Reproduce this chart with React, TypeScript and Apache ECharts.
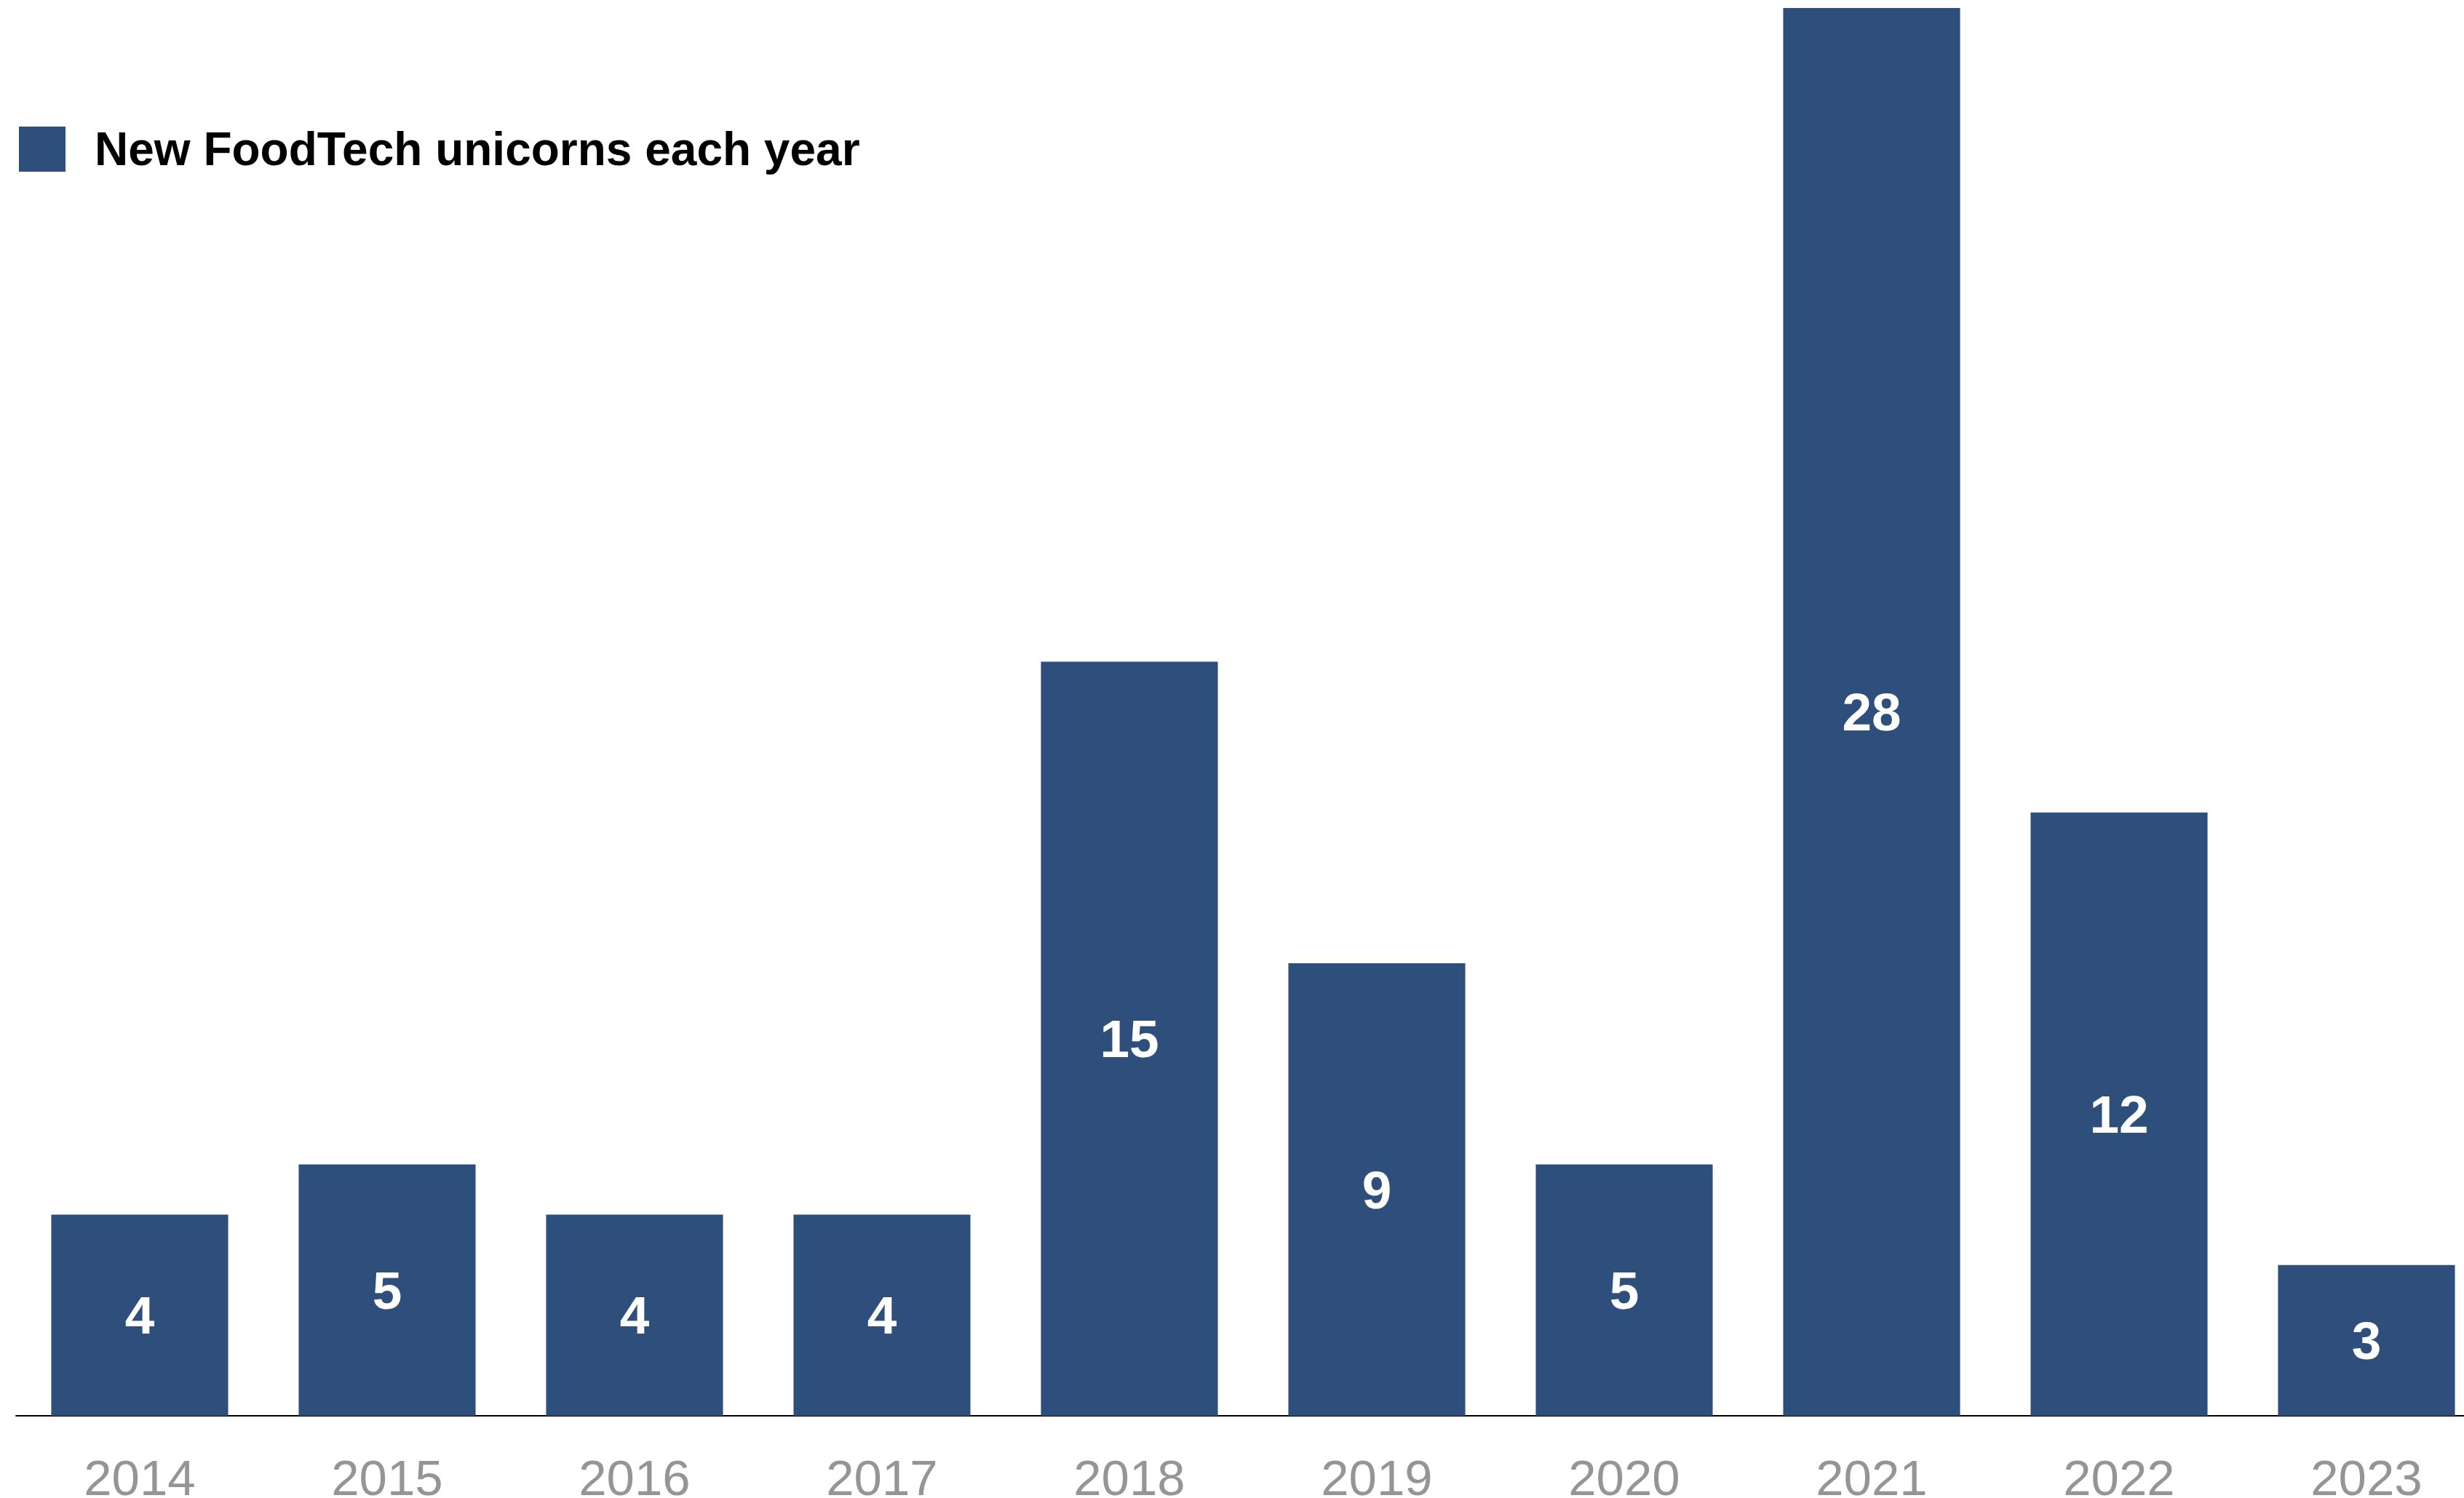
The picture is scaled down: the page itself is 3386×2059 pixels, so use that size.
import React, { useEffect, useRef } from "react";
import * as echarts from "echarts";

const years = ["2014", "2015", "2016", "2017", "2018", "2019", "2020", "2021", "2022", "2023"];
const unicorns = [4, 5, 4, 4, 15, 9, 5, 28, 12, 3];
const seriesName = "New FoodTech unicorns each year";

const BAR = "#2E4F7B";
const FONT = "'Liberation Sans', Arial, Helvetica, sans-serif";

export default function App() {
  const ref = useRef<HTMLDivElement>(null);
  useEffect(() => {
    if (!ref.current) return;
    const chart = echarts.init(ref.current, null, { renderer: "svg" });
    chart.setOption({
      animation: false,
      backgroundColor: "#ffffff",
      legend: {
        left: 26,
        top: 173,
        padding: 0,
        itemWidth: 64,
        itemHeight: 62,
        icon: "rect",
        data: [seriesName],
        textStyle: {
          fontFamily: FONT,
          fontWeight: "bold",
          fontSize: 64,
          color: "#000000",
          padding: [0, 0, 0, 35],
        },
      },
      grid: {
        left: 22,
        width: 3400,
        top: 11,
        bottom: 113,
        containLabel: false,
        outerBoundsMode: "none",
      },
      xAxis: {
        type: "category",
        data: years,
        axisLine: { show: true, lineStyle: { color: "#000000", width: 2 } },
        axisTick: { show: false },
        axisLabel: {
          color: "#959595",
          fontFamily: FONT,
          fontSize: 69,
          lineHeight: 54,
          margin: 58,
        },
      },
      yAxis: {
        type: "value",
        min: 0,
        max: 28,
        show: false,
        splitLine: { show: false },
      },
      series: [
        {
          name: seriesName,
          type: "bar",
          data: unicorns,
          barCategoryGap: "28.5%",
          itemStyle: { color: BAR },
          label: {
            show: true,
            position: "inside",
            color: "#ffffff",
            fontFamily: FONT,
            fontWeight: "bold",
            fontSize: 73,
          },
        },
      ],
    });
    return () => chart.dispose();
  }, []);
  return <div ref={ref} style={{ width: 3386, height: 2059, position: "absolute", left: 0, top: 0, overflow: "hidden" }} />;
}
